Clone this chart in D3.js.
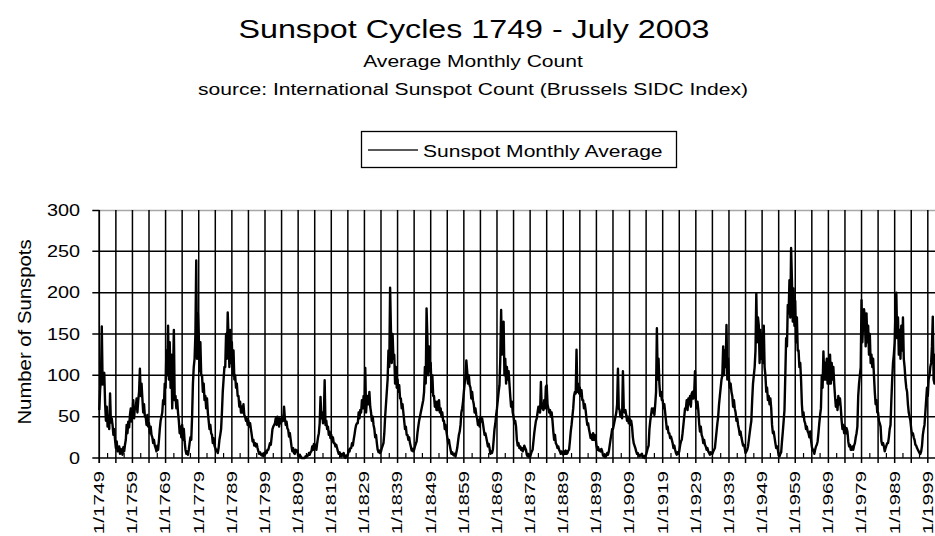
<!DOCTYPE html>
<html>
<head>
<meta charset="utf-8">
<script src="https://cdn.jsdelivr.net/npm/d3@7"></script>
<style>
  html, body { margin: 0; padding: 0; background: #fff; overflow: hidden; }
  svg { display: block; }
  text { font-family: "Liberation Sans", Arial, sans-serif; fill: #000; }
</style>
</head>
<body>
<svg id="chart" width="935" height="536"></svg>
<script>
// Sunspot counts sampled every three months (Jan, Apr, Jul, Oct), Jan 1749 - Jul 2003
const startYear = 1749;
const sampleMonths = 3;
const totalMonths = 3055;
const sunspots = [
  58,83,95,159, 89,100,103,66, 45,62,38,50, 35,78,43,48, 40,28,35,22,
  12,20,8,10, 14,5,11,8, 4,13,8,16, 22,40,30,44, 37,52,60,44,
  52,70,48,62, 60,72,55,70, 80,108,75,90, 72,55,65,50, 50,40,52,38,
  42,30,38,28, 25,18,22,15, 12,8,15,10, 22,35,45,50, 55,70,65,90,
  85,130,100,160, 95,140,85,125, 60,100,155,70, 75,60,70,55, 45,30,38,25,
  40,22,35,20, 10,5,8,4, 10,18,25,22, 50,90,110,120, 150,239,120,175,
  150,105,140,100, 100,80,90,70, 75,60,72,55, 45,35,40,30, 28,18,24,15,
  12,8,10,6, 12,22,28,35, 55,80,95,110, 110,150,120,176, 145,110,155,115,
  140,100,130,95, 100,85,90,75, 75,62,68,55, 62,55,65,52, 50,45,48,40,
  45,38,42,35, 28,20,22,15, 18,14,17,12, 8,5,7,4, 3,5,2,6,
  4,8,6,10, 10,14,18,16, 25,35,38,40, 42,48,40,50, 45,38,48,42,
  44,50,45,62, 48,40,44,36, 34,26,30,22, 14,8,12,6, 5,10,8,9,
  3,1,4,2, 0,0,0,0, 0,2,1,3, 3,6,4,7, 8,14,10,17,
  12,16,10,18, 25,30,42,74, 48,55,42,50, 94,40,45,35, 38,28,32,24,
  28,20,25,18, 18,14,16,12, 8,5,7,4, 2,5,3,6, 1,0,3,2,
  4,10,8,12, 12,18,15,22, 28,35,40,42, 42,55,48,58, 55,70,60,75,
  60,109,55,70, 75,65,80,62, 55,45,50,40, 35,25,28,18, 10,7,9,6,
  8,12,15,18, 30,50,65,80, 95,130,110,206, 155,115,150,120, 125,90,110,85,
  95,80,88,72, 72,60,65,55, 45,35,38,28, 28,22,25,18, 14,9,11,8,
  10,14,17,20, 30,38,45,50, 55,60,65,70, 80,110,90,181, 145,100,135,105,
  115,80,100,75, 75,62,68,58, 68,58,70,55, 60,50,55,45, 45,35,40,32,
  25,18,22,15, 10,5,7,4, 3,5,2,7, 12,20,28,32, 40,55,60,68,
  80,90,98,118, 105,90,100,88, 85,72,80,70, 65,55,60,52, 48,40,46,38,
  50,44,48,42, 35,28,30,25, 20,14,17,12, 5,8,6,10, 22,35,42,52,
  60,70,80,88, 120,179,125,160, 165,100,120,90, 110,95,105,90, 75,62,68,55,
  50,42,45,38, 22,15,18,12, 14,10,12,8, 10,15,12,10, 4,2,5,1,
  1,5,8,10, 20,30,38,45, 48,55,62,58, 55,92,60,65, 58,70,60,86,
  88,65,60,55, 58,50,55,45, 32,22,28,18, 16,12,14,10, 8,5,8,6,
  4,8,5,9, 5,6,9,10, 20,32,40,50, 60,75,80,78, 131,80,90,78,
  85,75,82,70, 70,60,65,58, 48,40,42,35, 30,24,28,22, 30,22,28,25,
  15,10,13,9, 10,8,11,8, 3,2,4,1, 3,6,4,8, 15,22,28,35,
  35,40,45,50, 55,65,108,60, 58,50,55,48, 105,60,55,58, 52,45,50,42,
  48,40,45,38, 25,18,15,12, 8,5,6,3, 2,4,3,5, 1,2,0,3,
  4,8,12,15, 35,45,52,60, 55,60,52,65, 80,157,95,120, 90,75,80,70,
  70,60,65,55, 45,35,38,30, 30,24,26,22, 18,12,15,10, 6,4,7,5,
  8,15,20,22, 30,40,50,60, 60,70,58,72, 65,75,62,78, 80,72,78,105,
  70,60,68,58, 42,32,38,28, 25,18,22,16, 14,10,12,8, 6,4,7,5,
  5,8,10,12, 22,32,42,50, 65,75,85,95, 100,135,100,130, 110,161,95,120,
  95,85,90,80, 75,62,70,60, 55,45,48,40, 35,28,32,25, 20,15,16,12,
  6,8,10,14, 22,30,38,45, 70,90,100,110, 130,199,140,170, 160,115,155,120,
  150,115,160,110, 100,80,85,70, 75,65,72,60, 40,30,32,25, 18,12,14,10,
  3,2,5,7, 20,32,45,58, 100,145,135,185, 175,215,170,254, 215,165,205,160,
  190,140,170,130, 130,110,115,95, 65,50,55,45, 42,35,38,32, 30,25,32,22,
  14,9,10,5, 10,14,16,20, 30,42,52,60, 100,85,129,95, 115,95,120,90,
  120,90,125,90, 115,95,110,90, 75,62,70,58, 75,65,72,60, 45,35,40,30,
  38,30,36,32, 20,14,16,10, 10,14,10,15, 18,25,30,38, 75,90,100,110,
  191,140,165,180, 170,135,175,140, 160,125,150,115, 125,110,120,100, 80,65,70,55,
  55,45,42,38, 20,16,18,14, 8,12,15,18, 18,25,35,40, 70,95,115,125,
  140,180,200,145, 170,125,155,120, 160,130,170,120, 110,95,85,80, 65,55,50,45,
  35,28,30,25, 22,16,15,12, 10,8,6,5, 8,15,28,35, 40,55,70,85,
  75,95,100,110, 115,135,171,95, 90,125,95,120, 115,100,105,95, 80,60,70
];

const yTicks = [0, 50, 100, 150, 200, 250, 300];
const gridYears = d3.range(1749, 2000, 5);
const minorYears = d3.range(1751.5, 2003, 5);
const labelYears = d3.range(1749, 2000, 10);

const titleText = "Sunspot Cycles 1749 - July 2003";
const subtitleText = "Average Monthly Count";
const sourceText = "source:  International Sunspot Count (Brussels SIDC Index)";
const legendText = "Sunspot Monthly Average";
const yAxisTitle = "Number of Sunspots";

(function draw() {
  const series = sunspots.map((v, i) => ({ t: startYear + (i * sampleMonths) / 12, v }));

  const svg = d3.select("#chart");
  const plotL = 99.3, plotR = 943, plotT = 210, plotB = 458;
  const stretch = 1.24;
  const gridWidth = 1.5;

  const x = d3.scaleLinear().domain([startYear, startYear + totalMonths / 12]).range([plotL, plotR]);
  const y = d3.scaleLinear().domain([0, 300]).range([plotB, plotT]);

  // titles
  svg.append("text").attr("transform", `translate(474,38) scale(${stretch},1)`)
    .attr("text-anchor", "middle").style("font-size", "26px").text(titleText);
  svg.append("text").attr("transform", `translate(473,67) scale(${stretch},1)`)
    .attr("text-anchor", "middle").style("font-size", "17px").text(subtitleText);
  svg.append("text").attr("transform", `translate(473,95) scale(${stretch},1)`)
    .attr("text-anchor", "middle").style("font-size", "17px").text(sourceText);

  // legend
  const lg = svg.append("g");
  lg.append("rect").attr("x", 361.5).attr("y", 131.5).attr("width", 315).attr("height", 36)
    .attr("fill", "#fff").attr("stroke", "#000").attr("stroke-width", 1.3);
  lg.append("line").attr("x1", 368).attr("x2", 418).attr("y1", 150).attr("y2", 150)
    .attr("stroke", "#222").attr("stroke-width", 1.6);
  lg.append("text").attr("transform", `translate(423,157) scale(${stretch},1)`)
    .style("font-size", "17px").text(legendText);

  // plot frame top edge
  svg.append("line").attr("x1", plotL).attr("x2", plotR).attr("y1", plotT + 0.5).attr("y2", plotT + 0.5)
    .attr("stroke", "#a8a8a8").attr("stroke-width", 1.5);

  // horizontal gridlines with ticks left of the axis
  const yGrid = svg.append("g");
  yGrid.selectAll("line.h").data(yTicks.filter(d => d < 300)).join("line")
    .attr("x1", plotL - 7).attr("x2", plotR)
    .attr("y1", d => y(d)).attr("y2", d => y(d))
    .attr("stroke", "#000").attr("stroke-width", gridWidth);
  yGrid.append("line").attr("x1", plotL - 7).attr("x2", plotL)
    .attr("y1", plotT + 0.5).attr("y2", plotT + 0.5).attr("stroke", "#000").attr("stroke-width", gridWidth);

  // vertical gridlines, crossing the axis
  svg.append("g").selectAll("line").data(gridYears).join("line")
    .attr("x1", d => x(d)).attr("x2", d => x(d))
    .attr("y1", plotT).attr("y2", plotB + 5)
    .attr("stroke", "#000").attr("stroke-width", gridWidth);

  // minor ticks inside the plot
  svg.append("g").selectAll("line").data(minorYears).join("line")
    .attr("x1", d => x(d)).attr("x2", d => x(d))
    .attr("y1", plotB - 5).attr("y2", plotB)
    .attr("stroke", "#000").attr("stroke-width", 1.2);

  // y axis line
  svg.append("line").attr("x1", plotL).attr("x2", plotL).attr("y1", plotT).attr("y2", plotB + 5)
    .attr("stroke", "#000").attr("stroke-width", gridWidth);

  // y tick labels
  svg.append("g").selectAll("text").data(yTicks).join("text")
    .attr("transform", d => `translate(80,${y(d) + 5.7}) scale(${stretch},1)`)
    .attr("text-anchor", "end").style("font-size", "16px").text(d => d);

  // y axis title
  svg.append("text").attr("transform", `translate(31,332) rotate(-90) scale(1.07,1)`)
    .attr("text-anchor", "middle").style("font-size", "19px").text(yAxisTitle);

  // x labels
  svg.append("g").selectAll("text").data(labelYears).join("text")
    .attr("transform", d => `translate(${x(d)},471) rotate(-90) scale(1.48,1)`)
    .attr("text-anchor", "end").attr("dy", "0.35em").style("font-size", "14px")
    .text(d => "1/" + d);

  // data line
  const line = d3.line().x(d => x(d.t)).y(d => y(d.v));
  svg.append("path").datum(series).attr("d", line)
    .attr("fill", "none").attr("stroke", "#000").attr("stroke-width", 2.4)
    .attr("stroke-linejoin", "round");
})();
</script>
</body>
</html>
